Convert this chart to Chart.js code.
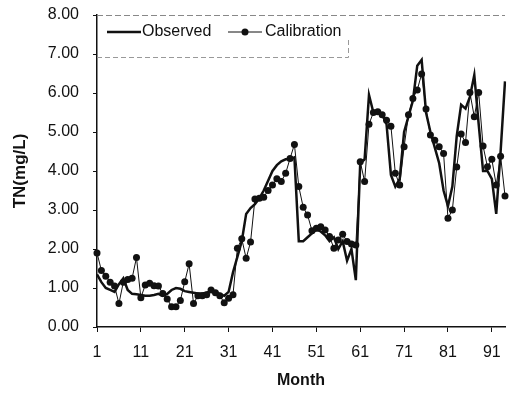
<!DOCTYPE html>
<html>
<head>
<meta charset="utf-8">
<script src="https://cdn.jsdelivr.net/npm/chart.js@4/dist/chart.umd.min.js"></script>
<style>
html,body{margin:0;padding:0;background:#fff;}
#wrap{position:relative;width:509px;height:394px;overflow:hidden;}
</style>
</head>
<body>
<div id="wrap"><canvas id="c" width="509" height="394"></canvas></div>
<script>
const months = Array.from({length: 94}, (_, i) => i + 1);
const observed = [
 1.35,1.15,1.00,0.95,0.90,1.10,1.25,0.95,0.85,0.84,
 0.82,0.80,0.80,0.82,0.85,0.80,0.85,0.95,1.00,0.98,
 0.92,0.90,0.88,0.86,0.86,0.88,0.92,0.88,0.85,0.80,
 0.90,1.40,1.80,2.20,2.90,3.05,3.15,3.30,3.50,3.75,
 4.00,4.15,4.25,4.30,4.30,4.35,2.20,2.20,2.30,2.40,
 2.50,2.45,2.35,2.20,2.30,2.00,2.20,1.70,2.00,1.20,
 4.20,4.30,5.95,5.50,5.50,5.45,5.20,3.90,3.60,3.80,
 5.00,5.40,5.80,6.70,6.85,5.50,5.00,4.60,4.20,3.50,
 3.10,3.60,4.90,5.70,5.60,5.90,6.46,5.20,4.00,4.00,
 3.80,2.90,4.50,6.30
];
const calibration = [
 1.90,1.45,1.30,1.15,1.05,0.60,1.15,1.22,1.25,1.78,
 0.75,1.08,1.12,1.06,1.05,0.86,0.72,0.52,0.52,0.68,
 1.16,1.62,0.60,0.80,0.80,0.83,0.95,0.88,0.80,0.62,
 0.74,0.83,2.02,2.26,1.76,2.18,3.28,3.30,3.33,3.50,
 3.64,3.80,3.73,3.94,4.32,4.68,3.60,3.07,2.87,2.47,
 2.53,2.57,2.49,2.32,2.02,2.23,2.38,2.19,2.13,2.10,
 4.24,3.73,5.20,5.50,5.52,5.44,5.30,5.15,3.94,3.64,
 4.62,5.44,5.86,6.08,6.49,5.59,4.92,4.79,4.62,4.45,
 2.79,3.00,4.10,4.95,4.73,6.01,5.39,6.01,4.64,4.11,
 4.30,3.64,4.38,3.36
];
const seriesNames = ['Observed', 'Calibration'];
const yTicks = [0,1,2,3,4,5,6,7,8];

const FONT = "'Liberation Sans', Arial, sans-serif";

const legendPlugin = {
  id: 'insideLegend',
  afterDraw(chart) {
    const ctx = chart.ctx;
    const a = chart.chartArea;
    ctx.save();
    ctx.strokeStyle = '#888';
    ctx.lineWidth = 1;
    ctx.setLineDash([6, 3]);
    ctx.beginPath();
    ctx.moveTo(a.left, a.top + 0.5);
    ctx.lineTo(a.right, a.top + 0.5);
    ctx.stroke();
    const bx = a.left, by = a.top, bw = 251, bh = 42;
    ctx.strokeStyle = '#999';
    ctx.setLineDash([5, 3]);
    ctx.beginPath();
    ctx.moveTo(bx, by + bh + 0.5);
    ctx.lineTo(bx + bw + 0.5, by + bh + 0.5);
    ctx.lineTo(bx + bw + 0.5, by + 25);
    ctx.stroke();
    ctx.setLineDash([]);
    const ly = by + 17;
    ctx.strokeStyle = '#111';
    ctx.lineWidth = 2.5;
    ctx.beginPath();
    ctx.moveTo(bx + 10, ly);
    ctx.lineTo(bx + 44, ly);
    ctx.stroke();
    ctx.font = '16px ' + FONT;
    ctx.fillStyle = '#111';
    ctx.textBaseline = 'middle';
    ctx.textAlign = 'left';
    ctx.fillText(seriesNames[0], bx + 45, ly);
    ctx.lineWidth = 1;
    ctx.beginPath();
    ctx.moveTo(bx + 131, ly);
    ctx.lineTo(bx + 165, ly);
    ctx.stroke();
    ctx.beginPath();
    ctx.arc(bx + 148, ly, 3.5, 0, Math.PI * 2);
    ctx.fill();
    ctx.fillText(seriesNames[1], bx + 168, ly);
    ctx.restore();
  }
};

new Chart(document.getElementById('c'), {
  type: 'line',
  data: {
    labels: months,
    datasets: [
      {
        label: seriesNames[0],
        data: observed,
        borderColor: '#111',
        borderWidth: 2.5,
        pointRadius: 0,
        tension: 0,
        order: 2
      },
      {
        label: seriesNames[1],
        data: calibration,
        borderColor: '#111',
        backgroundColor: '#111',
        borderWidth: 1,
        pointRadius: 3.5,
        pointBackgroundColor: '#111',
        pointBorderWidth: 0,
        tension: 0,
        order: 1
      }
    ]
  },
  options: {
    responsive: false,
    animation: false,
    layout: { padding: { top: 0, right: -3, left: 0, bottom: 0 } },
    plugins: { legend: { display: false }, tooltip: { enabled: false } },
    scales: {
      x: {
        type: 'category',
        offset: false,
        border: { color: '#111', width: 1.5 },
        grid: {
          drawOnChartArea: false,
          tickLength: 5,
          color: (c) => (c.index % 10 === 0 ? '#111' : 'rgba(0,0,0,0)')
        },
        ticks: {
          autoSkip: false,
          maxRotation: 0,
          color: '#111',
          font: { family: FONT, size: 16 },
          padding: 11,
          callback: function(v, i) { return i % 10 === 0 ? String(months[i]) : ''; }
        },
        title: {
          display: true,
          text: 'Month',
          color: '#111',
          font: { family: FONT, size: 16, weight: 'bold' },
          padding: { top: 2 }
        },
        afterFit: (s) => { s.height = 67; s.paddingRight = 0; s.paddingLeft = 0; }
      },
      y: {
        min: 0,
        max: 8,
        border: { color: '#111', width: 1.5 },
        grid: { drawOnChartArea: false, tickLength: 4, color: '#111' },
        afterBuildTicks: (s) => { s.ticks = yTicks.map(v => ({ value: v })); },
        ticks: {
          color: '#111',
          font: { family: FONT, size: 16 },
          padding: 14,
          callback: (v) => Number(v).toFixed(2)
        },
        title: {
          display: true,
          text: 'TN(mg/L)',
          color: '#111',
          font: { family: FONT, size: 17, weight: 'bold' },
          padding: { top: 10, bottom: 0 }
        },
        afterFit: (s) => { s.width = 97; s.paddingTop = 15; }
      }
    }
  },
  plugins: [legendPlugin]
});
</script>
</body>
</html>
